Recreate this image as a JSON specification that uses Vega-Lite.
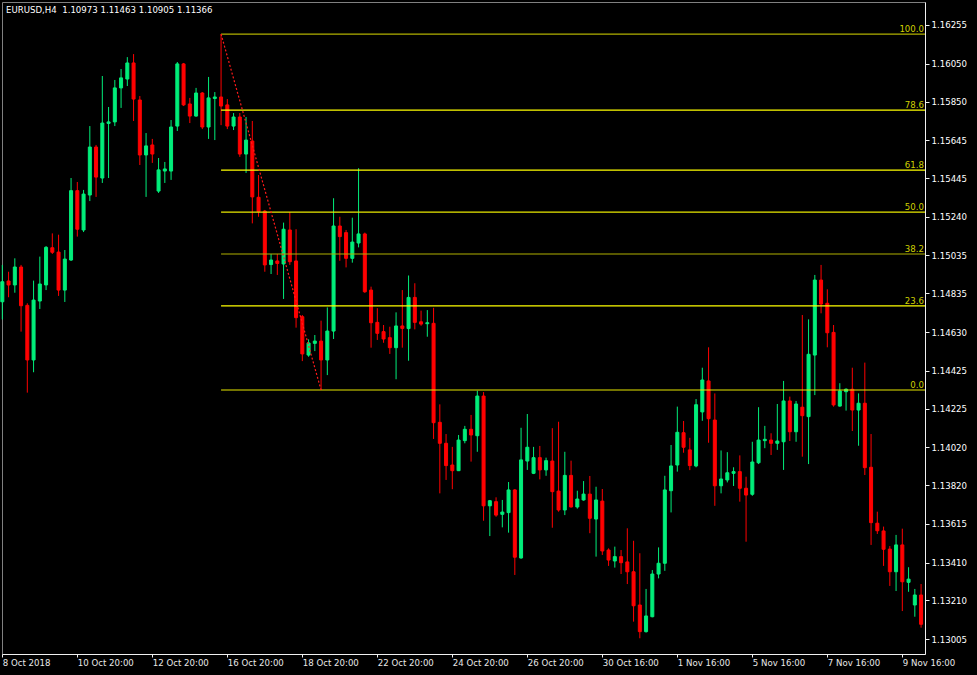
{
  "$schema": "https://vega.github.io/schema/vega-lite/v6.json",
  "width": 923,
  "height": 652,
  "autosize": {"type": "none"},
  "padding": {"left": 2, "top": 2, "right": 52, "bottom": 21},
  "background": "#000000",
  "view": {"stroke": "#808080", "strokeWidth": 1},
  "datasets": {
    "header": [
      {"text": "EURUSD,H4\u00a0 1.10973 1.11463 1.10905 1.11366"}
    ],
    "candles": [
      {"i":0,"o":1.14790,"h":1.14985,"l":1.14697,"c":1.14896},
      {"i":1,"o":1.14900,"h":1.14949,"l":1.14814,"c":1.14879},
      {"i":2,"o":1.14879,"h":1.15020,"l":1.14838,"c":1.14974},
      {"i":3,"o":1.14974,"h":1.14985,"l":1.14632,"c":1.14769},
      {"i":4,"o":1.14771,"h":1.14782,"l":1.14309,"c":1.14482},
      {"i":5,"o":1.14482,"h":1.14902,"l":1.14417,"c":1.14799},
      {"i":6,"o":1.14794,"h":1.15029,"l":1.14752,"c":1.14884},
      {"i":7,"o":1.14879,"h":1.15085,"l":1.14852,"c":1.15078},
      {"i":8,"o":1.15076,"h":1.15152,"l":1.15043,"c":1.15052},
      {"i":9,"o":1.15053,"h":1.15145,"l":1.14821,"c":1.14852},
      {"i":10,"o":1.14852,"h":1.15064,"l":1.14789,"c":1.15016},
      {"i":11,"o":1.15011,"h":1.15445,"l":1.15006,"c":1.15378},
      {"i":12,"o":1.15378,"h":1.15424,"l":1.15135,"c":1.15174},
      {"i":13,"o":1.15170,"h":1.15382,"l":1.15159,"c":1.15360},
      {"i":14,"o":1.15355,"h":1.15720,"l":1.15323,"c":1.15609},
      {"i":15,"o":1.15609,"h":1.15620,"l":1.15345,"c":1.15450},
      {"i":16,"o":1.15445,"h":1.15985,"l":1.15419,"c":1.15736},
      {"i":17,"o":1.15734,"h":1.15821,"l":1.15445,"c":1.15742},
      {"i":18,"o":1.15742,"h":1.15964,"l":1.15720,"c":1.15922},
      {"i":19,"o":1.15922,"h":1.16022,"l":1.15816,"c":1.15975},
      {"i":20,"o":1.15969,"h":1.16085,"l":1.15932,"c":1.16054},
      {"i":21,"o":1.16054,"h":1.16101,"l":1.15747,"c":1.15863},
      {"i":22,"o":1.15858,"h":1.15879,"l":1.15514,"c":1.15567},
      {"i":23,"o":1.15567,"h":1.15683,"l":1.15345,"c":1.15615},
      {"i":24,"o":1.15620,"h":1.15652,"l":1.15525,"c":1.15572},
      {"i":25,"o":1.15376,"h":1.15551,"l":1.15366,"c":1.15488},
      {"i":26,"o":1.15482,"h":1.15530,"l":1.15419,"c":1.15493},
      {"i":27,"o":1.15482,"h":1.15752,"l":1.15435,"c":1.15715},
      {"i":28,"o":1.15720,"h":1.16059,"l":1.15694,"c":1.16049},
      {"i":29,"o":1.16049,"h":1.16054,"l":1.15826,"c":1.15832},
      {"i":30,"o":1.15837,"h":1.15869,"l":1.15736,"c":1.15773},
      {"i":31,"o":1.15773,"h":1.15922,"l":1.15770,"c":1.15895},
      {"i":32,"o":1.15895,"h":1.15900,"l":1.15704,"c":1.15715},
      {"i":33,"o":1.15715,"h":1.15980,"l":1.15652,"c":1.15869},
      {"i":34,"o":1.15866,"h":1.15900,"l":1.15646,"c":1.15874},
      {"i":35,"o":1.15874,"h":1.16207,"l":1.15725,"c":1.15826},
      {"i":36,"o":1.15832,"h":1.15863,"l":1.15704,"c":1.15720},
      {"i":37,"o":1.15720,"h":1.15789,"l":1.15699,"c":1.15768},
      {"i":38,"o":1.15768,"h":1.15789,"l":1.15557,"c":1.15572},
      {"i":39,"o":1.15572,"h":1.15768,"l":1.15472,"c":1.15646},
      {"i":40,"o":1.15641,"h":1.15747,"l":1.15205,"c":1.15345},
      {"i":41,"o":1.15343,"h":1.15461,"l":1.15240,"c":1.15267},
      {"i":42,"o":1.15270,"h":1.15276,"l":1.14949,"c":1.14985},
      {"i":43,"o":1.14987,"h":1.15043,"l":1.14937,"c":1.15011},
      {"i":44,"o":1.15006,"h":1.15043,"l":1.14932,"c":1.14993},
      {"i":45,"o":1.14990,"h":1.15209,"l":1.14805,"c":1.15174},
      {"i":46,"o":1.15170,"h":1.15265,"l":1.14985,"c":1.15002},
      {"i":47,"o":1.15006,"h":1.15174,"l":1.14653,"c":1.14706},
      {"i":48,"o":1.14711,"h":1.14720,"l":1.14476,"c":1.14514},
      {"i":49,"o":1.14508,"h":1.14591,"l":1.14499,"c":1.14572},
      {"i":50,"o":1.14570,"h":1.14614,"l":1.14529,"c":1.14582},
      {"i":51,"o":1.14582,"h":1.14690,"l":1.14323,"c":1.14482},
      {"i":52,"o":1.14482,"h":1.14760,"l":1.14402,"c":1.14635},
      {"i":53,"o":1.14635,"h":1.15338,"l":1.14593,"c":1.15191},
      {"i":54,"o":1.15191,"h":1.15240,"l":1.15007,"c":1.15135},
      {"i":55,"o":1.15156,"h":1.15170,"l":1.14972,"c":1.15020},
      {"i":56,"o":1.15020,"h":1.15235,"l":1.14997,"c":1.15106},
      {"i":57,"o":1.15101,"h":1.15497,"l":1.15078,"c":1.15149},
      {"i":58,"o":1.15149,"h":1.15156,"l":1.14837,"c":1.14843},
      {"i":59,"o":1.14852,"h":1.14870,"l":1.14547,"c":1.14679},
      {"i":60,"o":1.14681,"h":1.14756,"l":1.14588,"c":1.14623},
      {"i":61,"o":1.14632,"h":1.14667,"l":1.14573,"c":1.14593},
      {"i":62,"o":1.14600,"h":1.14658,"l":1.14514,"c":1.14547},
      {"i":63,"o":1.14547,"h":1.14734,"l":1.14380,"c":1.14662},
      {"i":64,"o":1.14662,"h":1.14852,"l":1.14547,"c":1.14649},
      {"i":65,"o":1.14648,"h":1.14929,"l":1.14478,"c":1.14813},
      {"i":66,"o":1.14813,"h":1.14888,"l":1.14644,"c":1.14681},
      {"i":67,"o":1.14684,"h":1.14743,"l":1.14663,"c":1.14672},
      {"i":68,"o":1.14674,"h":1.14746,"l":1.14605,"c":1.14679},
      {"i":69,"o":1.14676,"h":1.14758,"l":1.14064,"c":1.14150},
      {"i":70,"o":1.14152,"h":1.14247,"l":1.13776,"c":1.14041},
      {"i":71,"o":1.14041,"h":1.14090,"l":1.13847,"c":1.13923},
      {"i":72,"o":1.13926,"h":1.14022,"l":1.13798,"c":1.13896},
      {"i":73,"o":1.13896,"h":1.14085,"l":1.13894,"c":1.14058},
      {"i":74,"o":1.14055,"h":1.14133,"l":1.14041,"c":1.14115},
      {"i":75,"o":1.14115,"h":1.14191,"l":1.13944,"c":1.14085},
      {"i":76,"o":1.14081,"h":1.14319,"l":1.13996,"c":1.14291},
      {"i":77,"o":1.14291,"h":1.14312,"l":1.13631,"c":1.13710},
      {"i":78,"o":1.13710,"h":1.13741,"l":1.13550,"c":1.13737},
      {"i":79,"o":1.13732,"h":1.13755,"l":1.13652,"c":1.13661},
      {"i":80,"o":1.13665,"h":1.13741,"l":1.13596,"c":1.13677},
      {"i":81,"o":1.13674,"h":1.13836,"l":1.13568,"c":1.13794},
      {"i":82,"o":1.13794,"h":1.13799,"l":1.13344,"c":1.13438},
      {"i":83,"o":1.13434,"h":1.14123,"l":1.13430,"c":1.13953},
      {"i":84,"o":1.13947,"h":1.14196,"l":1.13900,"c":1.14020},
      {"i":85,"o":1.13882,"h":1.14022,"l":1.13878,"c":1.13965},
      {"i":86,"o":1.13965,"h":1.14027,"l":1.13850,"c":1.13900},
      {"i":87,"o":1.13900,"h":1.13965,"l":1.13869,"c":1.13949},
      {"i":88,"o":1.13947,"h":1.14121,"l":1.13594,"c":1.13785},
      {"i":89,"o":1.13788,"h":1.14155,"l":1.13679,"c":1.13688},
      {"i":90,"o":1.13688,"h":1.13996,"l":1.13661,"c":1.13871},
      {"i":91,"o":1.13871,"h":1.13949,"l":1.13701,"c":1.13704},
      {"i":92,"o":1.13704,"h":1.13790,"l":1.13695,"c":1.13746},
      {"i":93,"o":1.13741,"h":1.13841,"l":1.13737,"c":1.13772},
      {"i":94,"o":1.13772,"h":1.13868,"l":1.13565,"c":1.13644},
      {"i":95,"o":1.13640,"h":1.13811,"l":1.13441,"c":1.13741},
      {"i":96,"o":1.13735,"h":1.13799,"l":1.13450,"c":1.13471},
      {"i":97,"o":1.13476,"h":1.13485,"l":1.13392,"c":1.13423},
      {"i":98,"o":1.13418,"h":1.13494,"l":1.13383,"c":1.13441},
      {"i":99,"o":1.13441,"h":1.13476,"l":1.13349,"c":1.13409},
      {"i":100,"o":1.13413,"h":1.13591,"l":1.13296,"c":1.13361},
      {"i":101,"o":1.13361,"h":1.13525,"l":1.13097,"c":1.13181},
      {"i":102,"o":1.13185,"h":1.13459,"l":1.13009,"c":1.13044},
      {"i":103,"o":1.13044,"h":1.13270,"l":1.13039,"c":1.13127},
      {"i":104,"o":1.13123,"h":1.13370,"l":1.13120,"c":1.13349},
      {"i":105,"o":1.13349,"h":1.13490,"l":1.13326,"c":1.13406},
      {"i":106,"o":1.13406,"h":1.13869,"l":1.13366,"c":1.13794},
      {"i":107,"o":1.13790,"h":1.14032,"l":1.13675,"c":1.13921},
      {"i":108,"o":1.13926,"h":1.14235,"l":1.13891,"c":1.14099},
      {"i":109,"o":1.14097,"h":1.14159,"l":1.13991,"c":1.14020},
      {"i":110,"o":1.14006,"h":1.14070,"l":1.13899,"c":1.13923},
      {"i":111,"o":1.13921,"h":1.14275,"l":1.13914,"c":1.14245},
      {"i":112,"o":1.14207,"h":1.14441,"l":1.14160,"c":1.14376},
      {"i":113,"o":1.14371,"h":1.14549,"l":1.14044,"c":1.14171},
      {"i":114,"o":1.14164,"h":1.14305,"l":1.13710,"c":1.13816},
      {"i":115,"o":1.13816,"h":1.14003,"l":1.13776,"c":1.13852},
      {"i":116,"o":1.13847,"h":1.13994,"l":1.13834,"c":1.13885},
      {"i":117,"o":1.13882,"h":1.13914,"l":1.13815,"c":1.13891},
      {"i":118,"o":1.13891,"h":1.13977,"l":1.13732,"c":1.13803},
      {"i":119,"o":1.13803,"h":1.13864,"l":1.13520,"c":1.13767},
      {"i":120,"o":1.13771,"h":1.14049,"l":1.13763,"c":1.13942},
      {"i":121,"o":1.13938,"h":1.14232,"l":1.13931,"c":1.14058},
      {"i":122,"o":1.14055,"h":1.14133,"l":1.14015,"c":1.14062},
      {"i":123,"o":1.14058,"h":1.14094,"l":1.13979,"c":1.14041},
      {"i":124,"o":1.14041,"h":1.14249,"l":1.14006,"c":1.14053},
      {"i":125,"o":1.14049,"h":1.14371,"l":1.13900,"c":1.14265},
      {"i":126,"o":1.14265,"h":1.14288,"l":1.14053,"c":1.14102},
      {"i":127,"o":1.14102,"h":1.14265,"l":1.14049,"c":1.14249},
      {"i":128,"o":1.14232,"h":1.14720,"l":1.13970,"c":1.14187},
      {"i":129,"o":1.14182,"h":1.14697,"l":1.13931,"c":1.14512},
      {"i":130,"o":1.14508,"h":1.14932,"l":1.14296,"c":1.14905},
      {"i":131,"o":1.14905,"h":1.14985,"l":1.14729,"c":1.14778},
      {"i":132,"o":1.14782,"h":1.14856,"l":1.14549,"c":1.14626},
      {"i":133,"o":1.14628,"h":1.14667,"l":1.14235,"c":1.14244},
      {"i":134,"o":1.14238,"h":1.14359,"l":1.14235,"c":1.14318},
      {"i":135,"o":1.14314,"h":1.14332,"l":1.14214,"c":1.14327},
      {"i":136,"o":1.14327,"h":1.14441,"l":1.14106,"c":1.14217},
      {"i":137,"o":1.14217,"h":1.14305,"l":1.14028,"c":1.14253},
      {"i":138,"o":1.14253,"h":1.14468,"l":1.13873,"c":1.13912},
      {"i":139,"o":1.13914,"h":1.14090,"l":1.13503,"c":1.13621},
      {"i":140,"o":1.13618,"h":1.13679,"l":1.13561,"c":1.13578},
      {"i":141,"o":1.13577,"h":1.13600,"l":1.13392,"c":1.13480},
      {"i":142,"o":1.13481,"h":1.13497,"l":1.13286,"c":1.13361},
      {"i":143,"o":1.13361,"h":1.13556,"l":1.13259,"c":1.13503},
      {"i":144,"o":1.13503,"h":1.13589,"l":1.13153,"c":1.13308},
      {"i":145,"o":1.13305,"h":1.13385,"l":1.13255,"c":1.13322},
      {"i":146,"o":1.13185,"h":1.13270,"l":1.13123,"c":1.13238},
      {"i":147,"o":1.13238,"h":1.13296,"l":1.13065,"c":1.13083}
    ],
    "fibo": [
      {"label": "100.0", "price": 1.16207, "i": 35},
      {"label": "78.6", "price": 1.15804, "i": 35},
      {"label": "61.8", "price": 1.15487, "i": 35},
      {"label": "50.0", "price": 1.15265, "i": 35},
      {"label": "38.2", "price": 1.15043, "i": 35},
      {"label": "23.6", "price": 1.14768, "i": 35},
      {"label": "0.0", "price": 1.14323, "i": 35}
    ],
    "trend": [
      {"i": 35, "p": 1.16207},
      {"i": 51, "p": 1.14323}
    ]
  },
  "layer": [
    {
      "data": {"name": "candles"},
      "mark": {"type": "rule", "strokeWidth": 1},
      "encoding": {
        "x": {
          "field": "i", "type": "quantitative", "title": null,
          "scale": {"domain": [-0.05, 147.63], "nice": false, "zero": false, "padding": 0},
          "axis": {
            "title": null, "grid": false,
            "values": [0, 12, 24, 36, 48, 60, 72, 84, 96, 108, 120, 132, 144],
            "labelExpr": "['8 Oct 2018','10 Oct 20:00','12 Oct 20:00','16 Oct 20:00','18 Oct 20:00','22 Oct 20:00','24 Oct 20:00','26 Oct 20:00','30 Oct 16:00','1 Nov 16:00','5 Nov 16:00','7 Nov 16:00','9 Nov 16:00'][round(datum.value / 12)]",
            "labelAlign": "left", "labelBaseline": "top", "labelPadding": 1,
            "labelFont": "DejaVu Sans", "labelFontSize": 8.6, "labelColor": "#e8e8e8",
            "labelOverlap": false, "labelFlush": false, "labelBound": false,
            "tickSize": 3, "tickColor": "#f0f0f0", "domainColor": "#f0f0f0"
          }
        },
        "y": {
          "field": "l", "type": "quantitative", "title": null,
          "scale": {"domain": [1.129257, 1.163767], "nice": false, "zero": false, "padding": 0},
          "axis": {
            "orient": "right", "title": null, "grid": false,
            "values": [1.16255, 1.1605, 1.1585, 1.15645, 1.15445, 1.1524, 1.15035, 1.14835, 1.1463, 1.14425, 1.14225, 1.1402, 1.1382, 1.13615, 1.1341, 1.1321, 1.13005],
            "format": ".5f",
            "labelFont": "DejaVu Sans", "labelFontSize": 8.6, "labelColor": "#ffffff",
            "labelPadding": 2, "labelOverlap": false, "labelFlush": false,
            "tickSize": 4, "tickColor": "#f0f0f0", "domainColor": "#f0f0f0"
          }
        },
        "y2": {"field": "h"},
        "color": {"condition": {"test": "datum.c >= datum.o", "value": "#00ee7a"}, "value": "#ff0000"}
      }
    },
    {
      "data": {"name": "candles"},
      "mark": {"type": "bar", "size": 3, "strokeWidth": 1},
      "encoding": {
        "x": {"field": "i", "type": "quantitative", "title": null},
        "y": {"field": "o", "type": "quantitative", "title": null},
        "y2": {"field": "c"},
        "color": {"condition": {"test": "datum.c >= datum.o", "value": "#00ee7a"}, "value": "#ff0000"},
        "stroke": {"condition": {"test": "datum.c >= datum.o", "value": "#00ee7a"}, "value": "#ff0000"}
      }
    },
    {
      "data": {"name": "fibo"},
      "mark": {"type": "rule", "strokeWidth": 1.2},
      "encoding": {
        "x": {"field": "i", "type": "quantitative", "title": null},
        "x2": {"datum": 147.63},
        "y": {"field": "price", "type": "quantitative", "title": null},
        "color": {
          "condition": [
            {"test": "datum.label == '100.0' || datum.label == '38.2'", "value": "#b0b000"},
            {"test": "datum.label == '50.0' || datum.label == '0.0'", "value": "#e8e800"}
          ],
          "value": "#ffff00"
        }
      }
    },
    {
      "data": {"name": "fibo"},
      "mark": {"type": "text", "align": "right", "baseline": "alphabetic", "dx": -1, "dy": -2, "font": "DejaVu Sans", "fontSize": 8.6, "color": "#d0d000"},
      "encoding": {
        "x": {"datum": 147.63},
        "y": {"field": "price", "type": "quantitative", "title": null},
        "text": {"field": "label"}
      }
    },
    {
      "data": {"name": "trend"},
      "mark": {"type": "line", "color": "#ff1a1a", "strokeWidth": 1.2, "strokeDash": [2, 2]},
      "encoding": {
        "x": {"field": "i", "type": "quantitative", "title": null},
        "y": {"field": "p", "type": "quantitative", "title": null}
      }
    },
    {
      "data": {"name": "header"},
      "mark": {"type": "text", "align": "left", "baseline": "alphabetic", "dx": 4, "dy": 11, "font": "DejaVu Sans", "fontSize": 8.6, "color": "#ffffff"},
      "encoding": {
        "x": {"datum": -0.05},
        "y": {"datum": 1.163767},
        "text": {"field": "text"}
      }
    }
  ]
}
